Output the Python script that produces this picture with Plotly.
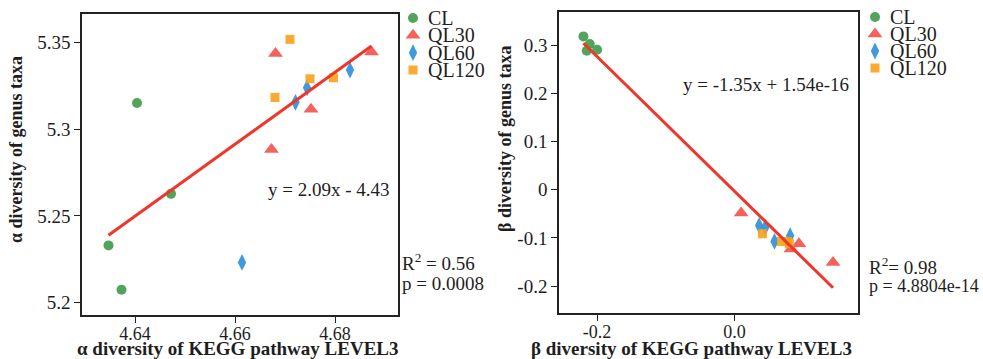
import numpy as np
import plotly.graph_objects as go

W, H = 983, 359

groups = ["CL", "QL30", "QL60", "QL120"]
colors = {"CL": "#3f9a4a", "QL30": "#f2524a", "QL60": "#2b8fd8", "QL120": "#f9a11b"}
symbols = {"CL": "circle", "QL30": "triangle-up", "QL60": "diamond-tall", "QL120": "square"}
sizes = {"CL": 10, "QL30": 13, "QL60": 12, "QL120": 9}

# alpha diversity (left panel)
alpha_x = {
    "CL":    [4.6404, 4.6472, 4.6347, 4.6373],
    "QL30":  [4.6681, 4.6873, 4.6752, 4.6673],
    "QL60":  [4.6830, 4.6744, 4.6721, 4.6614],
    "QL120": [4.6710, 4.6750, 4.6797, 4.6680],
}
alpha_y = {
    "CL":    [5.3150, 5.2627, 5.2330, 5.2074],
    "QL30":  [5.3435, 5.3444, 5.3115, 5.2883],
    "QL60":  [5.3340, 5.3238, 5.3154, 5.2232],
    "QL120": [5.3517, 5.3290, 5.3296, 5.3182],
}
# beta diversity (right panel)
beta_x = {
    "CL":    [-0.2199, -0.2107, -0.2151, -0.2000],
    "QL30":  [0.0098, 0.0940, 0.0823, 0.1436],
    "QL60":  [0.0360, 0.0448, 0.0584, 0.0812],
    "QL120": [0.0408, 0.0686, 0.0774, 0.0800],
}
beta_y = {
    "CL":    [0.3187, 0.3028, 0.2890, 0.2910],
    "QL30":  [-0.0485, -0.1123, -0.1233, -0.1510],
    "QL60":  [-0.0742, -0.0783, -0.1074, -0.0956],
    "QL120": [-0.0915, -0.1074, -0.1074, -0.1120],
}

alpha_eq = "y = 2.09x - 4.43"
alpha_r2 = "R<sup>2</sup> = 0.56"
alpha_p = "p = 0.0008"
beta_eq = "y = -1.35x + 1.54e-16"
beta_r2 = "R<sup>2</sup>= 0.98"
beta_p = "p = 4.8804e-14"

alpha_xticks = [4.64, 4.66, 4.68]
alpha_xticktext = ["4.64", "4.66", "4.68"]
alpha_yticks = [5.2, 5.25, 5.3, 5.35]
alpha_yticktext = ["5.2", "5.25", "5.3", "5.35"]
beta_xticks = [-0.2, 0.0]
beta_xticktext = ["-0.2", "0.0"]
beta_yticks = [-0.2, -0.1, 0, 0.1, 0.2, 0.3]
beta_yticktext = ["-0.2", "-0.1", "0", "0.1", "0.2", "0.3"]

FONT = "Liberation Serif"
TXT = "#1e1e1e"
LINE_RED = "#f0352b"

def px(x):
    return x / W

def py(y):
    return 1 - y / H

fig = go.Figure()

def add_panel(xd, yd, xa, ya):
    for g in groups:
        fig.add_trace(go.Scatter(
            x=xd[g], y=yd[g], mode="markers", xaxis=xa, yaxis=ya,
            marker=dict(color=colors[g], symbol=symbols[g], size=sizes[g], opacity=0.9,
                        line=dict(width=0)),
            showlegend=False, name=g))
    allx = np.concatenate([xd[g] for g in groups])
    ally = np.concatenate([yd[g] for g in groups])
    k, b = np.polyfit(allx, ally, 1)
    lx = np.array([allx.min(), allx.max()])
    fig.add_trace(go.Scatter(x=lx, y=k * lx + b, mode="lines", xaxis=xa, yaxis=ya,
                             line=dict(color=LINE_RED, width=3), showlegend=False))

add_panel(alpha_x, alpha_y, "x", "y")
add_panel(beta_x, beta_y, "x2", "y2")

# legends drawn on small overlay axes
rows = list(range(len(groups)))
for xa, ya in [("x3", "y3"), ("x4", "y4")]:
    for i, g in enumerate(groups):
        fig.add_trace(go.Scatter(
            x=[0], y=[rows[i]], mode="markers", xaxis=xa, yaxis=ya, cliponaxis=False,
            marker=dict(color=colors[g], symbol=symbols[g], size=sizes[g], opacity=0.9,
                        line=dict(width=0)),
            showlegend=False, hoverinfo="skip"))
        fig.add_annotation(x=13, y=rows[i], xref=xa, yref=ya, text=g, showarrow=False,
                           xanchor="left", yanchor="middle",
                           font=dict(family=FONT, size=20, color=TXT))

axis_common = dict(showgrid=False, zeroline=False, showline=True, linecolor="#222",
                   linewidth=1.6, mirror=True, ticks="outside", ticklen=6, tickwidth=1.4,
                   tickcolor="#222")
xfont = dict(tickfont=dict(family=FONT, size=18, color=TXT), ticklabelstandoff=-4)
yfont = dict(tickfont=dict(family=FONT, size=19, color=TXT))
hidden = dict(visible=False, showgrid=False, zeroline=False, fixedrange=True)

fig.update_layout(
    width=W, height=H, margin=dict(l=0, r=0, t=0, b=0),
    paper_bgcolor="white", plot_bgcolor="white",
    xaxis=dict(domain=[px(82), px(398)], range=[4.6294, 4.6926], anchor="y",
               tickvals=alpha_xticks, ticktext=alpha_xticktext, **axis_common, **xfont),
    yaxis=dict(domain=[py(315), py(14)], range=[5.1929, 5.3663], anchor="x",
               tickvals=alpha_yticks, ticktext=alpha_yticktext, **axis_common, **yfont),
    xaxis2=dict(domain=[px(559), px(858)], range=[-0.2555, 0.180], anchor="y2",
                tickvals=beta_xticks, ticktext=beta_xticktext, **axis_common, **xfont),
    yaxis2=dict(domain=[py(313), py(12)], range=[-0.2561, 0.3694], anchor="x2",
                tickvals=beta_yticks, ticktext=beta_yticktext, **axis_common, **yfont),
    xaxis3=dict(domain=[px(413), px(493)], range=[0, 80], anchor="y3", **hidden),
    yaxis3=dict(domain=[py(70), py(18)], range=[3, 0], anchor="x3", **hidden),
    xaxis4=dict(domain=[px(875), px(955)], range=[0, 80], anchor="y4", **hidden),
    yaxis4=dict(domain=[py(68), py(17)], range=[3, 0], anchor="x4", **hidden),
)

def ann(x, y, text, xanchor="center", size=19, angle=0):
    fig.add_annotation(x=px(x), y=py(y), xref="paper", yref="paper", text=text,
                       showarrow=False, xanchor=xanchor, yanchor="middle", textangle=angle,
                       font=dict(family=FONT, size=size, color=TXT))

ann(238, 348, "<b>α diversity of KEGG pathway LEVEL3</b>", size=19)
ann(691, 348, "<b>β diversity of KEGG pathway LEVEL3</b>", size=19)
ann(16, 150, "<b>α diversity of genus taxa</b>", size=18, angle=-90)
ann(505, 139, "<b>β diversity of genus taxa</b>", size=18, angle=-90)

ann(392, 189, alpha_eq, xanchor="right")
ann(851, 85, beta_eq, xanchor="right")
ann(400, 262, alpha_r2, xanchor="left")
ann(400, 283, alpha_p, xanchor="left")
ann(867, 266, beta_r2, xanchor="left")
ann(867, 286, beta_p, xanchor="left", size=18)

fig.write_html("out.html")
